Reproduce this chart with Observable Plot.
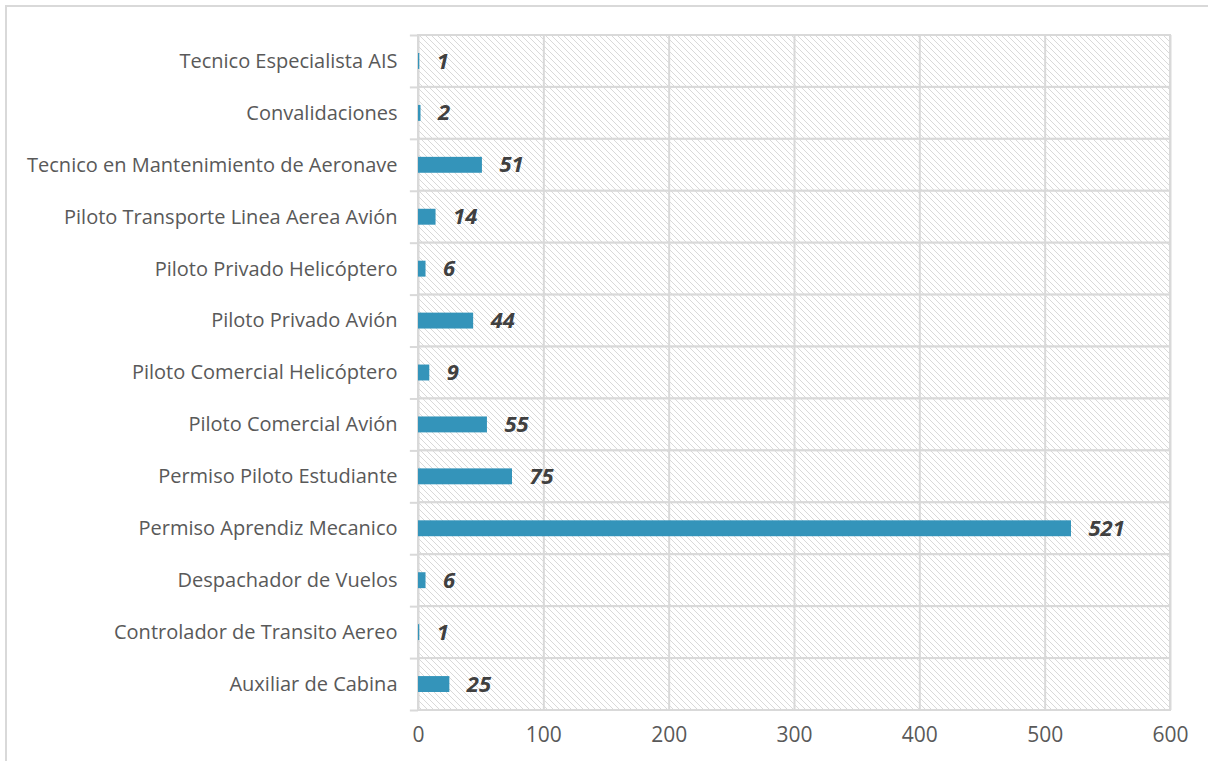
<!DOCTYPE html>
<html>
<head>
<meta charset="utf-8">
<script src="https://cdn.jsdelivr.net/npm/d3@7"></script>
<script src="https://cdn.jsdelivr.net/npm/@observablehq/plot@0.6"></script>
<style>
  html, body { margin: 0; padding: 0; background: #fff; }
  #frame { position: absolute; left: 5px; top: 5px; width: 1220px; height: 780px; border: 2px solid #d9d9d9; box-sizing: border-box; }
  #chart { position: absolute; left: 0; top: 0; }
</style>
</head>
<body>
<div id="frame"></div>
<div id="chart"></div>
<script>
const categories = [
  "Tecnico Especialista AIS",
  "Convalidaciones",
  "Tecnico en Mantenimiento de Aeronave",
  "Piloto Transporte Linea Aerea Avión",
  "Piloto Privado Helicóptero",
  "Piloto Privado Avión",
  "Piloto Comercial Helicóptero",
  "Piloto Comercial Avión",
  "Permiso Piloto Estudiante",
  "Permiso Aprendiz Mecanico",
  "Despachador de Vuelos",
  "Controlador de Transito Aereo",
  "Auxiliar de Cabina"
];
const values = [1, 2, 51, 14, 6, 44, 9, 55, 75, 521, 6, 1, 25];
const xTicks = [0, 100, 200, 300, 400, 500, 600];

const data = categories.map((c, i) => ({category: c, value: values[i]}));
const bg = categories.map(c => ({category: c, x1: 0, x2: 600}));

const W = 1208, H = 761;
const mTop = 35, mBottom = 51, mLeft = 418, mRight = 38;
const band = (H - mTop - mBottom) / categories.length;
const font = "'Open Sans', sans-serif";

const plot = Plot.plot({
  width: W,
  height: H,
  marginTop: mTop,
  marginBottom: mBottom,
  marginLeft: mLeft,
  marginRight: mRight,
  style: {fontFamily: font, background: "transparent"},
  x: {domain: [0, 600], ticks: xTicks, label: null},
  y: {domain: categories, padding: 0, round: false, label: null},
  marks: [
    Plot.barX(bg, {y: "category", x1: "x1", x2: "x2", fill: "url(#hatch)", stroke: "#d9d9d9", strokeWidth: 2}),
    Plot.ruleX(xTicks, {stroke: "#d9d9d9", strokeWidth: 2}),
    Plot.ruleY(categories, {y: d => d, x1: -6.5, x2: 0, dy: -band / 2, stroke: "#d9d9d9", strokeWidth: 2}),
    Plot.ruleY([categories[categories.length - 1]], {x1: -6.5, x2: 0, dy: band / 2, stroke: "#d9d9d9", strokeWidth: 2}),
    Plot.barX(data, {y: "category", x: "value", fill: "#3494ba", insetTop: 18, insetBottom: 18}),
    Plot.text(data, {y: "category", x: "value", text: d => String(d.value), dx: 17, textAnchor: "start",
      fill: "#404040", fontSize: 22, fontWeight: "bold", fontStyle: "italic"}),
    Plot.axisY({tickSize: 0, tickPadding: 21, fontSize: 20, color: "#595959"}),
    Plot.axisX({ticks: xTicks, tickSize: 0, tickPadding: 17, fontSize: 21, color: "#595959"})
  ]
});

const ns = "http://www.w3.org/2000/svg";
const defs = document.createElementNS(ns, "defs");
defs.innerHTML = `<pattern id="hatch" patternUnits="userSpaceOnUse" width="6" height="6">
  <rect width="6" height="6" fill="#ffffff"/>
  <path d="M-1,-1 L7,7 M-1,5 L1,7 M5,-1 L7,1" stroke="#d9d9d9" stroke-width="1"/>
</pattern>`;
plot.insertBefore(defs, plot.firstChild);
document.getElementById("chart").appendChild(plot);
</script>
</body>
</html>
